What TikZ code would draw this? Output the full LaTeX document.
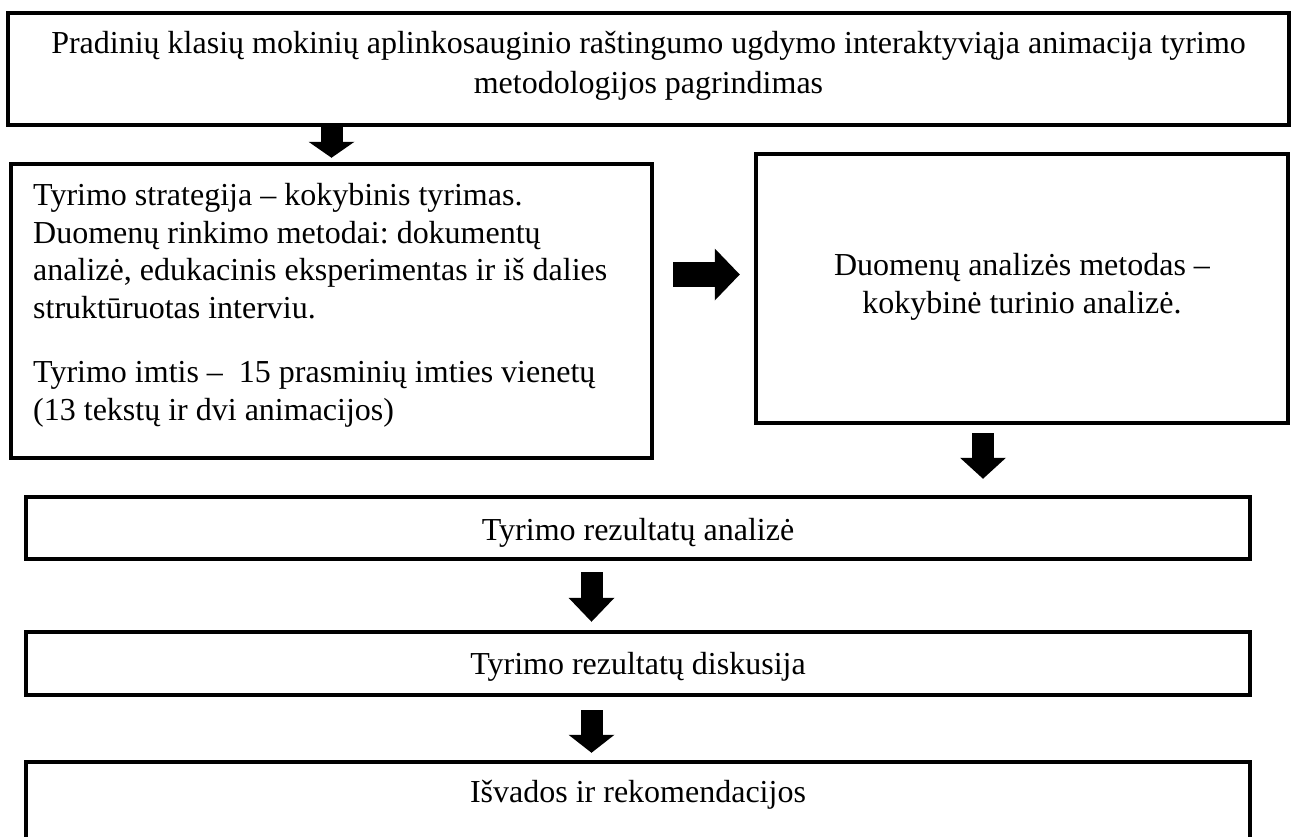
\documentclass[tikz,border=0pt]{standalone}
\usepackage{fontspec}
\setmainfont{Liberation Serif}
\usetikzlibrary{positioning}
\usetikzlibrary{arrows.meta}
\frenchspacing

\begin{document}
\begin{tikzpicture}[x=1pt, y=-1pt]
\pgfmathsetmacro{\XC}{638}
\pgfmathsetmacro{\XA}{-46.5}

\tikzset{
  box/.style={draw, rectangle, line width=4.5pt, inner sep=0pt},
  txt/.style={inner sep=0pt, font=\fontsize{32}{37.5}\selectfont},
  blockarrow/.style={line width=22pt, -{Triangle[width=46pt, length=#1, line width=0pt]}},
  blockarrow/.default=22pt,
}

\useasboundingbox (0, 0) rectangle (1294, 836);

\node[box, minimum width=1281pt, minimum height=112pt] (title) at (648.5, 69) {};
\node[box, minimum width=641pt, minimum height=294pt] (method) at (331.5, 311) {};
\node[box, minimum width=532pt, minimum height=269pt] (analysis) at (1022, 288.5) {};
\node[box, minimum width=1224pt, minimum height=62pt] (results) at (\XC, 528) {};
\node[box, minimum width=1224pt, minimum height=63pt] (discussion) at (\XC, 663.5) {};
\node[box, minimum width=1224pt, minimum height=80pt] (conclusions) at (\XC, 802) {};

\node[txt, align=center, font=\fontsize{32}{40}\selectfont, anchor=base] (titletext) at (648.5, 93)
  {Pradinių klasių mokinių aplinkosauginio raštingumo ugdymo interaktyviąja animacija tyrimo\\metodologijos pagrindimas};
\node[txt, align=left, anchor=base west] (methodtext) at (33, 420)
  {Tyrimo strategija – kokybinis tyrimas.\\Duomenų rinkimo metodai: dokumentų\\analizė, edukacinis eksperimentas ir iš dalies\\struktūruotas interviu.\\[27pt]Tyrimo imtis –~~15 prasminių imties vienetų\\(13 tekstų ir dvi animacijos)};
\node[txt, align=center, anchor=base] (analysistext) at (1022, 313)
  {Duomenų analizės metodas –\\kokybinė turinio analizė.};
\node[txt, anchor=base] (resultstext) at (\XC, 540) {Tyrimo rezultatų analizė};
\node[txt, anchor=base] (discussiontext) at (\XC, 674) {Tyrimo rezultatų diskusija};
\node[txt, anchor=base] (conclusionstext) at (\XC, 802) {Išvados ir rekomendacijos};

\draw[blockarrow=16pt, shorten >=4pt] (title.south -| method.north) -- (method.north);
\draw[line width=25pt, -{Triangle[width=52pt, length=25pt, line width=0pt]}, shorten <=19pt, shorten >=14pt] ([yshift=36.5pt]method.east) -- ([yshift=14pt]analysis.west);
\draw[blockarrow=21pt, shorten <=8pt, shorten >=16pt] ([xshift=-39pt]analysis.south) -- ([xshift=345pt]results.north);
\draw[blockarrow=24pt, shorten <=11pt, shorten >=8pt] ([xshift=\XA pt]results.south) -- ([xshift=\XA pt]discussion.north);
\draw[blockarrow=18pt, shorten <=13pt, shorten >=7pt] ([xshift=\XA pt]discussion.south) -- ([xshift=\XA pt]conclusions.north);
\end{tikzpicture}
\end{document}
